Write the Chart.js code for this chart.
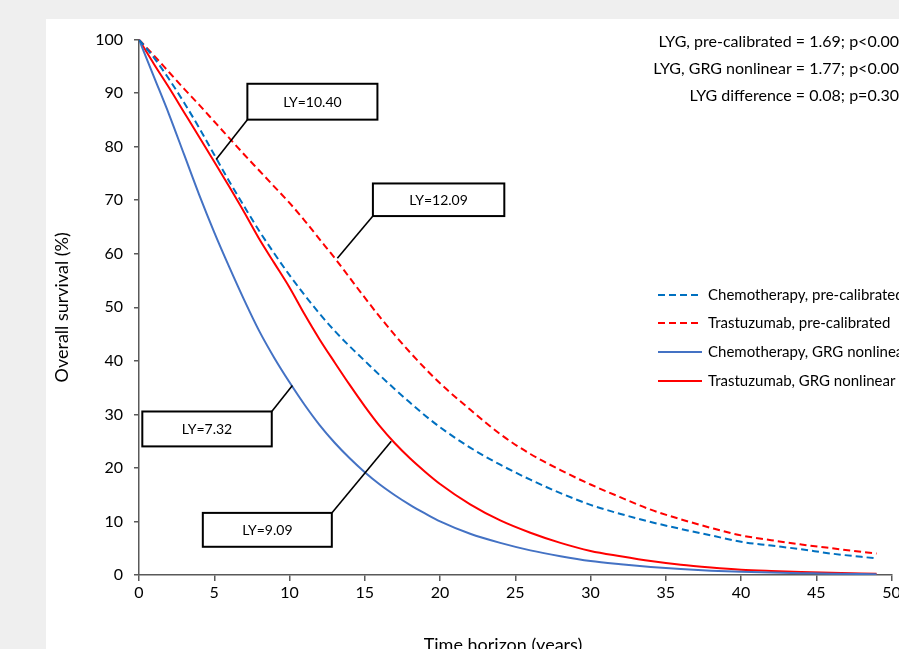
<!DOCTYPE html>
<html>
<head>
<meta charset="utf-8">
<title>Overall survival</title>
<script src="https://cdn.jsdelivr.net/npm/chart.js@4.4.1/dist/chart.umd.min.js"></script>
<style>
  html, body { margin: 0; padding: 0; width: 899px; height: 649px; overflow: hidden; background: #efefef; }
  #panel { position: absolute; left: 46px; top: 19px; width: 940px; height: 660px; background: #fff; }
</style>
</head>
<body>
<div id="panel"><canvas id="chart" width="940" height="660"></canvas></div>
<script>
// Time points (years) and survival (%)
const years = [0,1,2,3,4,5,6,7,8,9,10,11,12,13,14,15,16,17,18,19,20,22,24,26,28,30,32,34,36,38,40,42,44,46,49];
const chemoPreCalibrated = [100,96.6,92.6,88.2,83.5,78.5,73.5,68.8,64.2,60,56,52.3,48.8,45.6,42.7,40,37.3,34.7,32.2,29.8,27.6,
    23.8,20.6,17.8,15.3,13.1,11.4,9.9,8.6,7.4,6.2,5.5,4.8,4.0,3.1];
const trastPreCalibrated = [100,97,93.9,90.8,87.8,84.7,81.6,78.5,75.5,72.5,69.5,66.2,62.7,59.2,55.5,51.8,48.2,44.8,41.6,38.6,35.8,
    30.9,26.3,22.6,19.6,16.9,14.5,12.2,10.4,8.8,7.4,6.5,5.7,5.0,4.0];
const chemoGrg = [100,93,86,78.5,71,64,57.5,51.3,45.5,40.5,36,31.8,28,24.7,21.8,19.2,16.9,14.9,13.1,11.5,10,
    7.7,6.0,4.6,3.5,2.6,2.0,1.5,1.1,0.8,0.6,0.45,0.35,0.25,0.15];
const trastGrg = [100,95.4,91,86.4,81.8,77.2,72.5,67.7,62.7,58.2,53.7,48.7,44,39.7,35.5,31.5,27.8,24.6,21.8,19.3,17,
    13.2,10.2,7.9,6.0,4.5,3.5,2.6,1.9,1.4,1.0,0.75,0.55,0.4,0.25];

const seriesNames = ['Chemotherapy, pre-calibrated', 'Trastuzumab, pre-calibrated',
    'Chemotherapy, GRG nonlinear', 'Trastuzumab, GRG nonlinear'];
const xTicks = [0,5,10,15,20,25,30,35,40,45,50];
const yTicks = [0,10,20,30,40,50,60,70,80,90,100];

const lyLabels = ['LY=10.40', 'LY=12.09', 'LY=7.32', 'LY=9.09'];
const statLines = ['LYG, pre-calibrated = 1.69; p<0.00', 'LYG, GRG nonlinear = 1.77; p<0.00', 'LYG difference = 0.08; p=0.30'];
const xTitle = 'Time horizon (years)';

// callout boxes in data units: [left, top, right, bottom], line start, line tip
const calloutPos = [
    { box: [7.2, 91.75, 15.84, 85.05], from: [7.2, 85.05], tip: [5.12, 77.6] },
    { box: [15.54, 73.13, 24.27, 67.04], from: [15.54, 67.04], tip: [13.18, 59.16] },
    { box: [0.22, 30.54, 8.82, 24.02], from: [8.82, 30.54], tip: [10.19, 35.38] },
    { box: [4.24, 11.6, 12.81, 5.27], from: [12.81, 11.6], tip: [16.76, 25.0] }
];

const FONT = 'Lato, "Liberation Sans", sans-serif';
Chart.defaults.font.family = FONT;
Chart.defaults.color = '#000';

function toPoints(values) {
    return values.map((v, i) => ({ x: years[i], y: v }));
}

function lineSet(label, values, color, dashed) {
    return {
        label: label,
        data: toPoints(values),
        borderColor: color,
        borderWidth: 2,
        borderDash: dashed ? [7, 4] : [],
        pointRadius: 0,
        fill: false,
        cubicInterpolationMode: 'monotone'
    };
}

// legend, LY callouts, LYG text and x axis title
const overlayPlugin = {
    id: 'overlay',
    afterDatasetsDraw(chart) {
        const { ctx, scales: { x, y } } = chart;
        ctx.save();

        // callouts
        calloutPos.forEach((c, i) => {
            const l = x.getPixelForValue(c.box[0]), t = y.getPixelForValue(c.box[1]);
            const r = x.getPixelForValue(c.box[2]), b = y.getPixelForValue(c.box[3]);
            ctx.strokeStyle = '#000';
            ctx.lineWidth = 1.6;
            ctx.beginPath();
            ctx.moveTo(x.getPixelForValue(c.from[0]), y.getPixelForValue(c.from[1]));
            ctx.lineTo(x.getPixelForValue(c.tip[0]), y.getPixelForValue(c.tip[1]));
            ctx.stroke();
            ctx.fillStyle = '#fff';
            ctx.fillRect(l, t, r - l, b - t);
            ctx.lineWidth = 2;
            ctx.strokeRect(l, t, r - l, b - t);
            ctx.fillStyle = '#000';
            ctx.font = '14px ' + FONT;
            ctx.textAlign = 'center';
            ctx.textBaseline = 'middle';
            ctx.fillText(lyLabels[i], (l + r) / 2, (t + b) / 2 + 1);
        });

        // legend
        const lx = 612, tx = 662;
        const rows = [276, 304, 333, 362];
        chart.data.datasets.forEach((ds, i) => {
            ctx.strokeStyle = ds.borderColor;
            ctx.lineWidth = 2;
            ctx.setLineDash(ds.borderDash);
            ctx.beginPath();
            ctx.moveTo(lx, rows[i]);
            ctx.lineTo(lx + 44, rows[i]);
            ctx.stroke();
            ctx.setLineDash([]);
            ctx.fillStyle = '#000';
            ctx.font = '15px ' + FONT;
            ctx.textAlign = 'left';
            ctx.textBaseline = 'middle';
            ctx.fillText(ds.label, tx, rows[i]);
        });

        // LYG statistics, top right
        ctx.font = '16px ' + FONT;
        ctx.textAlign = 'right';
        ctx.textBaseline = 'middle';
        statLines.forEach((s, i) => ctx.fillText(s, 853, 23 + i * 27));

        // x axis title (sits a little left of the plot centre in the original)
        ctx.font = '18px ' + FONT;
        ctx.textAlign = 'center';
        ctx.fillText(xTitle, 457, 626);

        ctx.restore();
    }
};

const axisColor = '#595959';

new Chart(document.getElementById('chart'), {
    type: 'line',
    data: {
        datasets: [
            lineSet(seriesNames[0], chemoPreCalibrated, '#0070C0', true),
            lineSet(seriesNames[1], trastPreCalibrated, '#FF0000', true),
            lineSet(seriesNames[2], chemoGrg, '#4472C4', false),
            lineSet(seriesNames[3], trastGrg, '#FF0000', false)
        ]
    },
    options: {
        responsive: false,
        animation: false,
        devicePixelRatio: 1,
        layout: { padding: { top: 19, right: 94.4, left: 0, bottom: 0 } },
        plugins: {
            legend: { display: false },
            tooltip: { enabled: false }
        },
        scales: {
            x: {
                type: 'linear',
                min: 0,
                max: 50,
                afterFit: s => { s.height = 104; },
                afterBuildTicks: s => { s.ticks = xTicks.map(v => ({ value: v })); },
                ticks: { font: { size: 16 }, padding: 2, maxRotation: 0, color: '#000' },
                grid: { drawOnChartArea: false, tickLength: 6, color: axisColor, lineWidth: 1.5 },
                border: { color: axisColor, width: 1.5 }
            },
            y: {
                min: 0,
                max: 100,
                afterFit: s => { s.width = 93; },
                afterBuildTicks: s => { s.ticks = yTicks.map(v => ({ value: v })); },
                ticks: { font: { size: 16 }, padding: 11, color: '#000' },
                grid: { drawOnChartArea: false, tickLength: 5, color: axisColor, lineWidth: 1.5 },
                border: { color: axisColor, width: 1.5 },
                title: { display: true, text: 'Overall survival (%)', font: { size: 18 }, padding: { top: 5, bottom: 0 }, color: '#000' }
            }
        }
    },
    plugins: [overlayPlugin]
});
</script>
</body>
</html>
